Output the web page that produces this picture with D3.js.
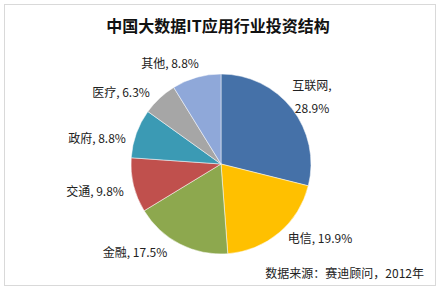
<!DOCTYPE html>
<html>
<head>
<meta charset="utf-8">
<script src="https://cdn.jsdelivr.net/npm/d3@7"></script>
<style>
  body { margin: 0; background: #fff; }
  text { font-family: "Noto Sans CJK SC", "Noto Sans", sans-serif; }
</style>
</head>
<body>
<svg id="chart" width="444" height="292"></svg>
<script>
// data
var categories = ["互联网", "电信", "金融", "交通", "政府", "医疗", "其他"];
var shares = [28.9, 19.9, 17.5, 9.8, 8.8, 6.3, 8.8];
var colors = ["#4571A8", "#FFC000", "#8DA84E", "#C0504D", "#3B9AB4", "#A6A6A6", "#8FA8D9"];
// label anchor points (x, y) relative to the chart, per slice
var labelPos = [[312, 84], [320, 237], [135, 251], [95, 190], [97, 137], [121, 91], [170, 62]];

var svg = d3.select("#chart");
var W = 444, H = 292;

svg.append("rect")
  .attr("x", 4.5).attr("y", 4.5)
  .attr("width", 431).attr("height", 281)
  .attr("fill", "#fff")
  .attr("stroke", "#d9d9d9");

svg.append("text")
  .attr("x", 218).attr("y", 32)
  .attr("text-anchor", "middle")
  .attr("font-size", 16)
  .attr("font-weight", "bold")
  .attr("fill", "#111")
  .text("中国大数据IT应用行业投资结构");

var cx = 221, cy = 164, r = 90;

var pie = d3.pie().sort(null).value(function (d) { return d; });
var arc = d3.arc().innerRadius(0).outerRadius(r);
var arcs = pie(shares);

var g = svg.append("g").attr("transform", "translate(" + cx + "," + cy + ")");
g.selectAll("path.slice")
  .data(arcs)
  .enter().append("path")
  .attr("class", "slice")
  .attr("d", arc)
  .attr("fill", function (d, i) { return colors[i]; })
  .attr("stroke", "#fff")
  .attr("stroke-width", 0.5);

// labels
var labels = svg.append("g").attr("font-size", 12).attr("fill", "#222");
arcs.forEach(function (d, i) {
  var p = labelPos[i];
  var txt = labels.append("text")
    .attr("x", p[0]).attr("y", p[1])
    .attr("text-anchor", "middle")
    .attr("dominant-baseline", "central");
  if (i === 0) {
    // the long label wraps onto two lines
    txt.append("tspan").attr("x", p[0]).text(categories[i] + ",");
    txt.append("tspan").attr("x", p[0]).attr("dy", 23).text(shares[i].toFixed(1) + "%");
  } else {
    txt.text(categories[i] + ", " + shares[i].toFixed(1) + "%");
  }
});

svg.append("text")
  .attr("x", 424).attr("y", 272)
  .attr("text-anchor", "end")
  .attr("dominant-baseline", "central")
  .attr("font-size", 12)
  .attr("fill", "#222")
  .text("数据来源：赛迪顾问，2012年");
</script>
</body>
</html>
